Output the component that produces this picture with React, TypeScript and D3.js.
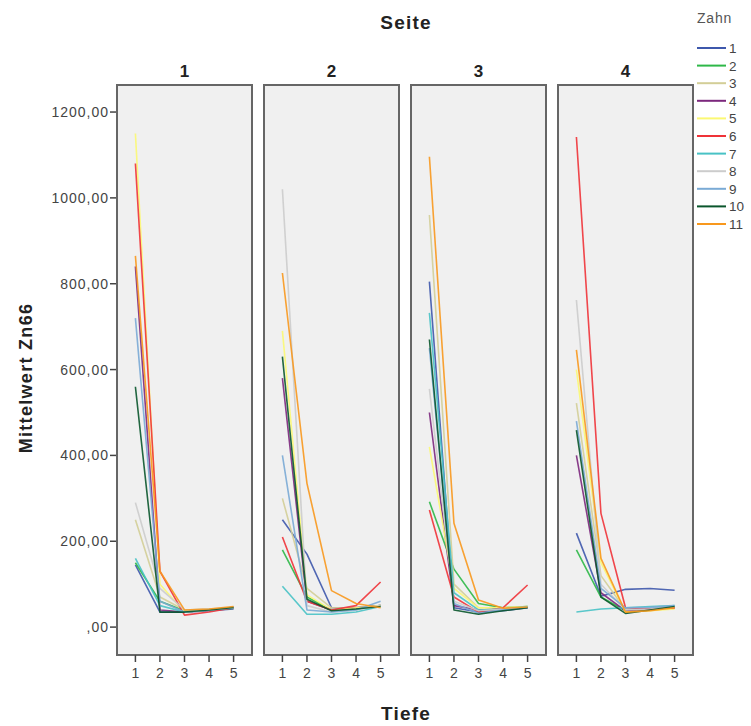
import React from "react";
import * as d3 from "d3";

const seiten = ["1", "2", "3", "4"];
const tiefen = [1, 2, 3, 4, 5];
const zahnLabels = ["1", "2", "3", "4", "5", "6", "7", "8", "9", "10", "11"];
const zahnColors = ["#3E58AC", "#2EB848", "#D3CE97", "#7C287D", "#FBF873", "#EF3338", "#48C2C5", "#CCCCCC", "#7AAAD5", "#0A562C", "#F8981D"];
const yTicks = [0, 200, 400, 600, 800, 1000, 1200];
const yTickLabels = [",00", "200,00", "400,00", "600,00", "800,00", "1000,00", "1200,00"];

// values per Seite: rows = Zahn 1..11, columns = Tiefe 1..5
const seite1 = [
  [145, 35, 35, 38, 42],
  [150, 60, 38, 40, 44],
  [250, 70, 40, 42, 45],
  [840, 40, 35, 40, 45],
  [1150, 100, 35, 40, 45],
  [1080, 130, 28, 35, 45],
  [160, 50, 35, 40, 45],
  [290, 90, 40, 42, 45],
  [720, 60, 35, 40, 46],
  [560, 35, 35, 40, 46],
  [865, 130, 40, 42, 48],
];
const seite2 = [
  [250, 170, 45, 45, 50],
  [180, 70, 40, 42, 50],
  [300, 90, 45, 45, 50],
  [580, 60, 40, 45, 50],
  [690, 75, 40, 45, 50],
  [210, 60, 40, 50, 105],
  [95, 30, 30, 35, 48],
  [1020, 50, 35, 40, 50],
  [400, 40, 35, 40, 60],
  [630, 65, 38, 42, 48],
  [825, 335, 85, 55, 45],
];
const seite3 = [
  [805, 45, 35, 38, 45],
  [292, 135, 55, 45, 48],
  [960, 100, 45, 45, 48],
  [500, 50, 40, 42, 45],
  [420, 90, 45, 45, 48],
  [273, 70, 35, 45, 98],
  [732, 80, 40, 42, 48],
  [555, 60, 38, 42, 46],
  [650, 55, 32, 40, 46],
  [670, 40, 30, 38, 45],
  [1096, 242, 63, 44, 47],
];
const seite4 = [
  [219, 72, 88, 90, 86],
  [180, 70, 38, 42, 48],
  [522, 120, 40, 42, 45],
  [400, 80, 38, 40, 44],
  [600, 150, 35, 38, 42],
  [1142, 265, 45, 42, 45],
  [35, 42, 45, 48, 50],
  [762, 100, 40, 42, 48],
  [480, 90, 45, 46, 50],
  [459, 70, 32, 40, 48],
  [646, 160, 35, 38, 45],
];
const allSeiten = [seite1, seite2, seite3, seite4];

const FONT = "'Liberation Sans', Arial, sans-serif";

export default function App() {
  const W = 751, H = 726;
  const top = 85, bottom = 655;
  const panelScale = d3.scaleBand<string>().domain(seiten).range([117, 693]).paddingInner(12 / 147).paddingOuter(0);
  const y = d3.scaleLinear().domain([-65, 1263]).range([bottom, top]);
  const legendY = d3.scalePoint<string>().domain(zahnLabels).range([48, 224]);

  return (
    <svg width={W} height={H} style={{ position: "absolute", left: 0, top: 0, background: "#fff" }} fontFamily={FONT}>
      <text x={406} y={29} textAnchor="middle" fontSize={19} fontWeight="bold" letterSpacing={1.2} fill="#222">Seite</text>
      <text x={406} y={720} textAnchor="middle" fontSize={19} fontWeight="bold" letterSpacing={1.2} fill="#222">Tiefe</text>
      <text transform={`translate(32,378) rotate(-90)`} textAnchor="middle" fontSize={18} fontWeight="bold" letterSpacing={1.3} fill="#222">Mittelwert Zn66</text>

      {/* y axis */}
      {yTicks.map((t, i) => (
        <g key={t}>
          <line x1={110} x2={117} y1={y(t)} y2={y(t)} stroke="#444" strokeWidth={1.5} />
          <text x={109} y={y(t) + 5} textAnchor="end" fontSize={14} letterSpacing={1} fill="#444">{yTickLabels[i]}</text>
        </g>
      ))}

      {seiten.map((s, si) => {
        const x0 = panelScale(s)!;
        const pw = panelScale.bandwidth();
        const x = d3.scaleLinear().domain([0.25, 5.75]).range([x0, x0 + pw]);
        const line = d3.line<number>().x((_, i) => x(tiefen[i])).y((v) => y(v));
        return (
          <g key={s}>
            <text x={x0 + pw / 2} y={77} textAnchor="middle" fontSize={17} fontWeight="bold" fill="#222">{s}</text>
            <rect x={x0} y={top} width={pw} height={bottom - top} fill="#F0F0F0" />
            {allSeiten[si].map((vals, zi) => (
              <path key={zi} d={line(vals)!} fill="none" stroke={zahnColors[zi]} strokeWidth={1.6} strokeOpacity={0.9} strokeLinejoin="round" />
            ))}
            <rect x={x0} y={top} width={pw} height={bottom - top} fill="none" stroke="#666" strokeWidth={2} />
            {tiefen.map((t) => (
              <g key={t}>
                <line x1={x(t)} x2={x(t)} y1={bottom} y2={bottom + 7} stroke="#444" strokeWidth={1.5} />
                <text x={x(t)} y={bottom + 23} textAnchor="middle" fontSize={14} fill="#444">{t}</text>
              </g>
            ))}
          </g>
        );
      })}

      {/* legend */}
      <text x={697} y={23} fontSize={14} letterSpacing={0.8} fill="#555">Zahn</text>
      {zahnLabels.map((z, i) => (
        <g key={z}>
          <line x1={697} x2={726} y1={legendY(z)!} y2={legendY(z)!} stroke={zahnColors[i]} strokeWidth={2} />
          <text x={729} y={legendY(z)! + 5} fontSize={13.5} fill="#444">{z}</text>
        </g>
      ))}
    </svg>
  );
}
